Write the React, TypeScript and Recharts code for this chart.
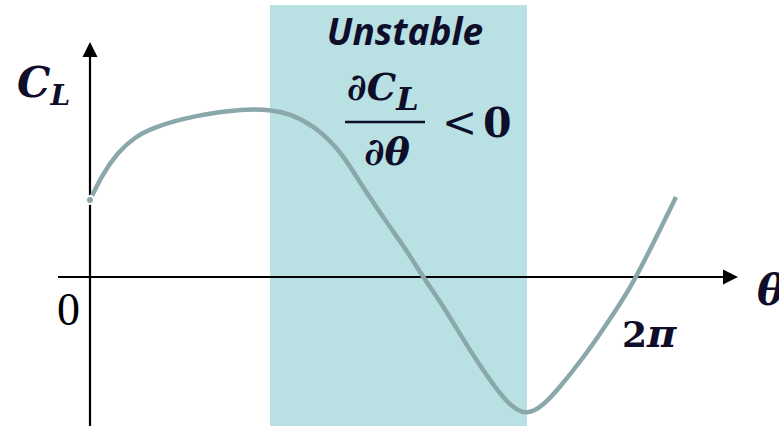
import React from 'react';
import { ComposedChart, Line, XAxis, YAxis, ReferenceArea, ReferenceLine, ReferenceDot } from 'recharts';

// theta in degrees (360 = 2π), lift coefficient in arbitrary units
const thetaDeg = [0, 7.96, 18.56, 29.83, 41.1, 62.98, 84.86, 104.75, 120.66, 132.6, 147.85, 163.76, 174.36, 185.64, 198.9, 210.17, 220.77, 232.04, 245.3, 258.56, 271.82, 280.44, 289.72, 300.33, 311.6, 324.86, 338.12, 351.38, 360, 374.59, 388.51];
const liftCoef = [0.77, 1.02, 1.25, 1.4, 1.49, 1.59, 1.65, 1.68, 1.67, 1.63, 1.52, 1.3, 1.06, 0.79, 0.5, 0.26, 0.0, -0.24, -0.57, -0.89, -1.17, -1.31, -1.38, -1.29, -1.1, -0.85, -0.57, -0.27, -0.06, 0.37, 0.8];
const unstableRange = [119.3, 289.7];
const tickLabels = ['0', '2π'];

const data = thetaDeg.map((x, i) => ({ x, cl: liftCoef[i] }));

const X_DOMAIN: [number, number] = [-59.67, 456.8];
const Y_DOMAIN: [number, number] = [-1.49, 2.77];

const INK = '#0e0e2a';
const MATH = '"DejaVu Serif", serif';

const ArrowLine = (props: any) => {
  const { x1, y1, x2, y2 } = props;
  const dx = x2 - x1, dy = y2 - y1;
  const len = Math.hypot(dx, dy) || 1;
  const ux = dx / len, uy = dy / len;
  const head = 15, half = 7.5;
  const bx = x2 - ux * head, by = y2 - uy * head;
  const px = -uy, py = ux;
  return (
    <g>
      <line x1={x1} y1={y1} x2={bx} y2={by} stroke="#000" strokeWidth={2.2} />
      <polygon points={`${x2},${y2} ${bx + px * half},${by + py * half} ${bx - px * half},${by - py * half}`} fill="#000" />
    </g>
  );
};

const textShape = (render: (cx: number, cy: number) => React.ReactElement) => (p: any) => render(p.cx, p.cy);

export default function App() {
  return (
    <div style={{ position: 'absolute', left: 0, top: 0, width: 779, height: 426, background: '#fff', overflow: 'hidden' }}>
      <ComposedChart width={779} height={426} data={data} margin={{ top: 0, right: 0, bottom: 0, left: 0 }}>
        <XAxis type="number" dataKey="x" domain={X_DOMAIN} hide allowDataOverflow />
        <YAxis type="number" domain={Y_DOMAIN} hide allowDataOverflow />
        <ReferenceArea x1={unstableRange[0]} x2={unstableRange[1]} y1={Y_DOMAIN[0]} y2={2.72} fill="#b9e0e3" fillOpacity={1} stroke="none" ifOverflow="visible" />
        <ReferenceLine segment={[{ x: 0, y: Y_DOMAIN[0] }, { x: 0, y: 2.35 }]} shape={ArrowLine} ifOverflow="visible" />
        <ReferenceLine segment={[{ x: -21.2, y: 0 }, { x: 429.6, y: 0 }]} shape={ArrowLine} ifOverflow="visible" />
        <Line type="basis" dataKey="cl" stroke="#8aa8a9" strokeWidth={4.5} dot={false} isAnimationActive={false} />
        {/* fraction bar */}
        <ReferenceLine segment={[{ x: 169.1, y: 1.55 }, { x: 222.1, y: 1.55 }]} stroke={INK} strokeWidth={2.7} ifOverflow="visible" />
        <ReferenceDot x={208.8} y={2.32} r={0} ifOverflow="visible" shape={textShape((cx, cy) => (
          <text x={cx} y={cy} textAnchor="middle" fill={INK} fontFamily='"Open Sans", sans-serif' fontWeight={700} fontStyle="italic" fontSize={37}>Unstable</text>
        ))} />
        <ReferenceDot x={170.4} y={1.77} r={0} ifOverflow="visible" shape={textShape((cx, cy) => (
          <text x={cx} y={cy} fill={INK} fontFamily={MATH} fontWeight={700} fontStyle="italic" fontSize={37}>
            ∂C<tspan fontSize={32} dy={10}>L</tspan>
          </text>
        ))} />
        <ReferenceDot x={196.9} y={1.12} r={0} ifOverflow="visible" shape={textShape((cx, cy) => (
          <text x={cx} y={cy} textAnchor="middle" fill={INK} fontFamily={MATH} fontWeight={700} fontStyle="italic" fontSize={38}>∂θ</text>
        ))} />
        <ReferenceDot x={233.4} y={1.4} r={0} ifOverflow="visible" shape={textShape((cx, cy) => (
          <text x={cx} y={cy} fill={INK} fontFamily={MATH} fontSize={42}>&lt;</text>
        ))} />
        <ReferenceDot x={260.5} y={1.4} r={0} ifOverflow="visible" shape={textShape((cx, cy) => (
          <text x={cx} y={cy} fill={INK} fontFamily={MATH} fontWeight={700} fontSize={41}>0</text>
        ))} />
        <ReferenceDot x={-48.4} y={1.8} r={0} ifOverflow="visible" shape={textShape((cx, cy) => (
          <text x={cx} y={cy} fill={INK} fontFamily={MATH} fontWeight={700} fontStyle="italic" fontSize={42}>
            C<tspan fontSize={28} dy={8}>L</tspan>
          </text>
        ))} />
        <ReferenceDot x={442.2} y={-0.28} r={0} ifOverflow="visible" shape={textShape((cx, cy) => (
          <text x={cx} y={cy} fill={INK} fontFamily={MATH} fontWeight={700} fontStyle="italic" fontSize={42}>θ</text>
        ))} />
        <ReferenceDot x={352.7} y={-0.7} r={0} ifOverflow="visible" shape={textShape((cx, cy) => (
          <text x={cx} y={cy} fill={INK} fontFamily={MATH} fontWeight={700} fontSize={36}>
            2<tspan fontStyle="italic" fontSize={40}>π</tspan>
          </text>
        ))} />
        <ReferenceDot x={-6.6} y={-0.48} r={0} ifOverflow="visible" shape={textShape((cx, cy) => (
          <text x={cx} y={cy} textAnchor="end" fill="#000" fontFamily='"Liberation Serif", serif' fontSize={46}>{tickLabels[0]}</text>
        ))} />
      </ComposedChart>
    </div>
  );
}
